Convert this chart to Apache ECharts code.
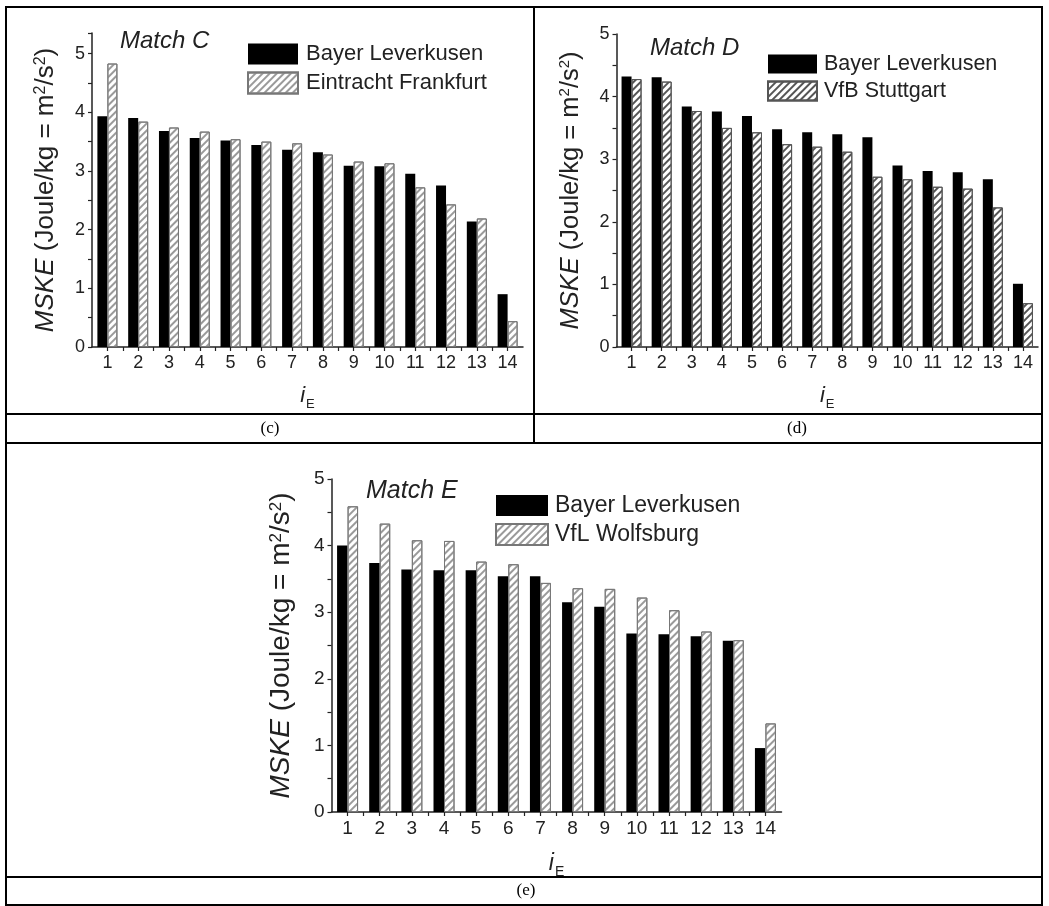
<!DOCTYPE html>
<html>
<head>
<meta charset="utf-8">
<script src="https://cdn.jsdelivr.net/npm/echarts@6/dist/echarts.min.js"></script>
<style>
html,body{margin:0;padding:0;background:#fff;}
#main{width:1049px;height:906px;}
</style>
</head>
<body>
<div id="main"></div>
<script>
// ---- data ----
const categories = [1,2,3,4,5,6,7,8,9,10,11,12,13,14];
const xTickLabels = ['1','2','3','4','5','6','7','8','9','10','11','12','13','14'];
const yTickLabels = ['0','1','2','3','4','5'];

const teamBayer = 'Bayer Leverkusen';
const teamC = 'Eintracht Frankfurt';
const teamD = 'VfB Stuttgart';
const teamE = 'VfL Wolfsburg';

const matchC_bayer = [3.93, 3.90, 3.68, 3.56, 3.52, 3.44, 3.36, 3.32, 3.09, 3.08, 2.95, 2.75, 2.14, 0.90];
const matchC_other = [4.83, 3.84, 3.74, 3.67, 3.54, 3.50, 3.47, 3.28, 3.16, 3.13, 2.72, 2.43, 2.19, 0.44];

const matchD_bayer = [4.32, 4.31, 3.84, 3.76, 3.69, 3.48, 3.43, 3.40, 3.35, 2.90, 2.81, 2.79, 2.68, 1.01];
const matchD_other = [4.28, 4.24, 3.77, 3.50, 3.43, 3.24, 3.20, 3.12, 2.72, 2.68, 2.56, 2.53, 2.23, 0.70];

const matchE_bayer = [4.00, 3.74, 3.64, 3.63, 3.63, 3.54, 3.54, 3.15, 3.08, 2.68, 2.67, 2.64, 2.57, 0.96];
const matchE_other = [4.59, 4.33, 4.08, 4.07, 3.76, 3.72, 3.44, 3.36, 3.35, 3.22, 3.03, 2.71, 2.58, 1.33];

// ---- helpers ----
const FONT = "'Liberation Sans', Arial, sans-serif";
const SERIF = "'Liberation Serif', 'Times New Roman', serif";
const AX = '#222';

function pairs(vals){ return categories.map((c,i)=>[c, vals[i]]); }

function xAxisFor(gi, fs, nameGap, nfs){
  return {
    type:'value', gridIndex:gi, min:0.5, max:14.5, interval:0.5,
    axisLine:{show:true, onZero:false, lineStyle:{color:AX, width:1.5}},
    axisTick:{show:true, inside:false, length:4, lineStyle:{color:AX, width:1.2}},
    splitLine:{show:false},
    axisLabel:{
      color:'#222', fontSize:fs, fontFamily:FONT, margin:7,
      formatter:(v)=>{ const i = categories.indexOf(v); return i>=0 ? xTickLabels[i] : ''; },
      showMinLabel:false, showMaxLabel:false
    },
    name:'{i|i}{s|E}', nameLocation:'middle', nameGap:nameGap,
    nameTextStyle:{ rich:{
      i:{fontStyle:'italic', fontSize:nfs, fontFamily:FONT, color:'#222'},
      s:{fontSize:Math.round(nfs*0.6), fontFamily:FONT, color:'#222', verticalAlign:'bottom', padding:[0,0,-4,1]}
    }}
  };
}
function yAxisFor(gi, max, fs, nameGap, nfs){
  return {
    type:'value', gridIndex:gi, min:0, max:max, interval:0.5,
    axisLine:{show:true, lineStyle:{color:AX, width:1.5}},
    axisTick:{show:true, length:4, lineStyle:{color:AX, width:1.2}},
    splitLine:{show:false},
    axisLabel:{
      color:'#222', fontSize:fs, fontFamily:FONT, margin:7,
      formatter:(v)=>{ const s = String(v); return yTickLabels.indexOf(s)>=0 ? s : ''; }
    },
    name:'{i|MSKE} (Joule/kg = m{s|2}/s{s|2})', nameLocation:'middle', nameGap:nameGap, nameRotate:90,
    nameTextStyle:{ fontSize:nfs, fontFamily:FONT, color:'#222', rich:{
      i:{fontStyle:'italic', fontSize:nfs, fontFamily:FONT, color:'#222'},
      s:{fontSize:Math.round(nfs*0.6), fontFamily:FONT, color:'#222', verticalAlign:'top'}
    }}
  };
}
function hatch(lineColor){
  return {symbol:'rect', symbolSize:1, dashArrayX:[1,0], dashArrayY:[1.3,2.2], rotation:-Math.PI/4, color:lineColor};
}
function barSeries(name, vals, gi, bw, kind){
  const s = {
    type:'bar', name:name, xAxisIndex:gi, yAxisIndex:gi, data:pairs(vals),
    barWidth:bw, barGap:'0%', animation:false
  };
  if(kind==='black'){
    s.itemStyle = {color:'#000', borderColor:'#000', borderWidth:0};
  } else if(kind==='dark'){
    s.itemStyle = {color:'#fff', borderColor:'#555', borderWidth:1, decal:hatch('#555')};
  } else {
    s.itemStyle = {color:'#fff', borderColor:'#777', borderWidth:1, decal:hatch('#9a9a9a')};
  }
  return s;
}

const grids = [
  {left:92, top:33, width:431, height:314},
  {left:616.5, top:34, width:421.5, height:313},
  {left:331.5, top:479, width:450, height:333}
];

function legendFor(left, top, iw, ih, gap, fs, pad, names){
  return {left:left, top:top, orient:'vertical', padding:0, itemWidth:iw, itemHeight:ih, itemGap:gap, icon:'rect',
    data:names, selectedMode:false,
    textStyle:{fontSize:fs, fontFamily:FONT, color:'#222', padding:[0,0,0,pad]}};
}

const option = {
  animation:false,
  backgroundColor:'#fff',
  grid: grids.map(g=>Object.assign({containLabel:false}, g)),
  xAxis:[ xAxisFor(0,18,38,22), xAxisFor(1,18,38,22), xAxisFor(2,19,40,23) ],
  yAxis:[ yAxisFor(0,5.35,18,33,26), yAxisFor(1,5,18,33,25.5), yAxisFor(2,5,19,36,28) ],
  legend:[
    legendFor(247, 43, 50, 21, 6.5, 22, 3, [teamBayer, teamC]),
    legendFor(767, 53, 49, 19, 5, 21.5, 2, [teamBayer, teamD]),
    legendFor(495, 494, 52, 21, 6, 23, 2, [teamBayer, teamE])
  ],
  series:[
    barSeries(teamBayer, matchC_bayer, 0, 10, 'black'),
    barSeries(teamC, matchC_other, 0, 10, 'light'),
    barSeries(teamBayer, matchD_bayer, 1, 10, 'black'),
    barSeries(teamD, matchD_other, 1, 10, 'dark'),
    barSeries(teamBayer, matchE_bayer, 2, 10.5, 'black'),
    barSeries(teamE, matchE_other, 2, 10.5, 'light')
  ],
  graphic:[
    // table frame
    {type:'rect', shape:{x:6, y:7, width:1036, height:898}, style:{fill:'none', stroke:'#000', lineWidth:2}, silent:true},
    {type:'line', shape:{x1:6, y1:414, x2:1042, y2:414}, style:{stroke:'#000', lineWidth:2}, silent:true},
    {type:'line', shape:{x1:6, y1:443, x2:1042, y2:443}, style:{stroke:'#000', lineWidth:2}, silent:true},
    {type:'line', shape:{x1:534, y1:7, x2:534, y2:443}, style:{stroke:'#000', lineWidth:2}, silent:true},
    {type:'line', shape:{x1:6, y1:877, x2:1042, y2:877}, style:{stroke:'#000', lineWidth:2}, silent:true},
    // panel titles
    {type:'text', x:120, y:29, style:{text:'Match C', font:"italic 24px "+FONT, fill:'#222'}, silent:true},
    {type:'text', x:650, y:36, style:{text:'Match D', font:"italic 24px "+FONT, fill:'#222'}, silent:true},
    {type:'text', x:366, y:479, style:{text:'Match E', font:"italic 25px "+FONT, fill:'#222'}, silent:true},
    // captions
    {type:'text', x:270, y:429, style:{text:'(c)', font:"17px "+SERIF, fill:'#000', textAlign:'center', textVerticalAlign:'middle'}, silent:true},
    {type:'text', x:797, y:429, style:{text:'(d)', font:"17px "+SERIF, fill:'#000', textAlign:'center', textVerticalAlign:'middle'}, silent:true},
    {type:'text', x:526, y:891, style:{text:'(e)', font:"17px "+SERIF, fill:'#000', textAlign:'center', textVerticalAlign:'middle'}, silent:true}
  ]
};

const chart = echarts.init(document.getElementById('main'), null, {renderer:'canvas'});
chart.setOption(option);
</script>
</body>
</html>
